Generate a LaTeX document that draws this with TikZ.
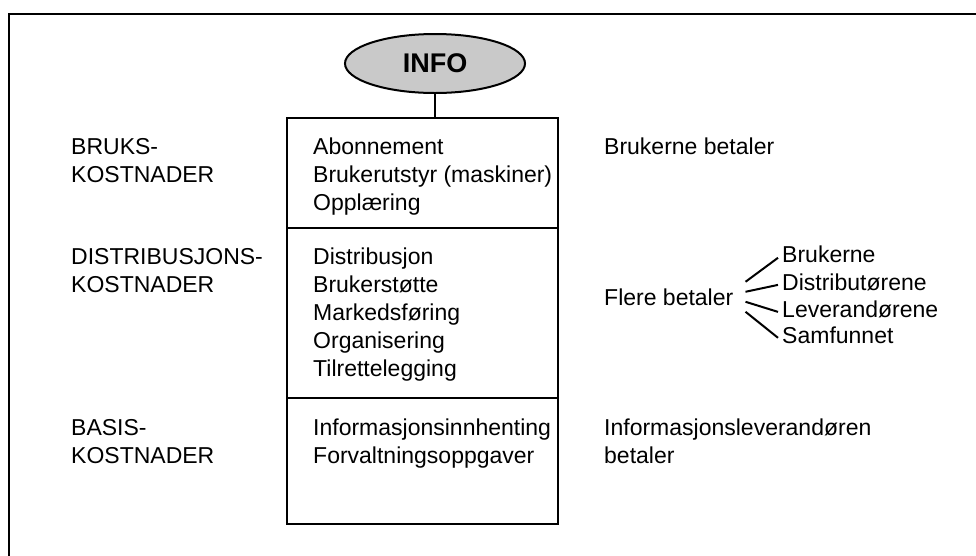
\documentclass[tikz,border=0pt]{standalone}
\usepackage{fontspec}
\setmainfont{Liberation Sans}
\usetikzlibrary{shapes.geometric}
\begin{document}
\begin{tikzpicture}[x=1pt,y=-1pt,
  txt/.style={anchor=base west, inner sep=0pt, font=\fontsize{23}{28}\selectfont},
  sect/.style={draw, line width=2pt, minimum width=271pt, inner sep=0pt},
  link/.style={line width=2pt},
  infobox/.style={ellipse, draw, line width=2pt, fill=black!21, minimum width=180pt,
    minimum height=59pt, inner sep=0pt, font=\bfseries\fontsize{27}{30}\selectfont}]
\useasboundingbox (0,0) rectangle (976,555);
\clip (0,0) rectangle (976,555);
\draw[line width=2.8pt] (9,14) rectangle (1000,600);

\node[infobox] (info) at (435,63.5) {INFO};

\node[sect, minimum height=110pt] (s1) at (422.5,173) {};
\node[sect, minimum height=170pt] (s2) at (422.5,313) {};
\node[sect, minimum height=126pt] (s3) at (422.5,461) {};
\draw[link] (info.south) -- (info.south |- s1.north);

% box contents
\node[txt] (a1) at (313,154) {Abonnement};
\node[txt] (a2) at (313,182) {Brukerutstyr (maskiner)};
\node[txt] (a3) at (313,210) {Opplæring};
\node[txt] (b1) at (313,264) {Distribusjon};
\node[txt] (b2) at (313,292) {Brukerstøtte};
\node[txt] (b3) at (313,320) {Markedsføring};
\node[txt] (b4) at (313,348) {Organisering};
\node[txt] (b5) at (313,376) {Tilrettelegging};
\node[txt] (c1) at (313,435) {Informasjonsinnhenting};
\node[txt] (c2) at (313,463) {Forvaltningsoppgaver};

% left labels
\node[txt] (l1) at (71,154) {BRUKS-};
\node[txt] (l2) at (71,182) {KOSTNADER};
\node[txt] (l3) at (71,264) {DISTRIBUSJONS-};
\node[txt] (l4) at (71,292) {KOSTNADER};
\node[txt] (l5) at (71,435) {BASIS-};
\node[txt] (l6) at (71,463) {KOSTNADER};

% right texts
\node[txt] (r1) at (604,154) {Brukerne betaler};
\node[txt] (flere) at (604,305) {Flere betaler};
\node[txt] (r3) at (604,435) {Informasjonsleverandøren};
\node[txt] (r4) at (604,463) {betaler};

\node[txt] (n1) at (782,262) {Brukerne};
\node[txt] (n2) at (782,290) {Distributørene};
\node[txt] (n3) at (782,317) {Leverandørene};
\node[txt] (n4) at (782,343) {Samfunnet};

\draw[link] ([xshift=12pt,yshift=15pt]flere.east) -- ([xshift=-4pt,yshift=-4pt]n1.west);
\draw[link] ([xshift=12pt,yshift=5pt]flere.east) -- ([xshift=-4pt,yshift=-3pt]n2.west);
\draw[link] ([xshift=12pt,yshift=-5pt]flere.east) -- ([xshift=-4pt,yshift=-3pt]n3.west);
\draw[link] ([xshift=12pt,yshift=-15pt]flere.east) -- ([xshift=-4pt,yshift=-3pt]n4.west);
\end{tikzpicture}
\end{document}
